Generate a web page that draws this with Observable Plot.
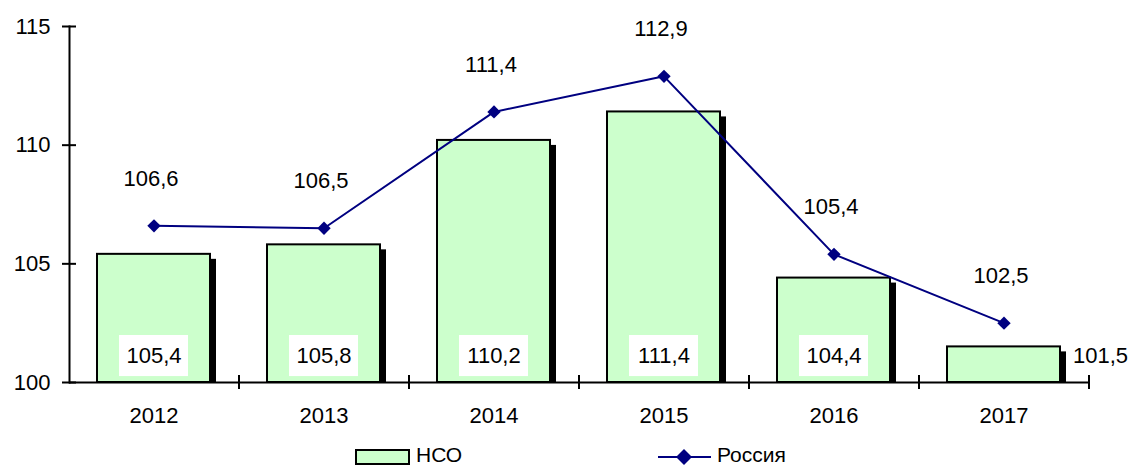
<!DOCTYPE html>
<html><head><meta charset="utf-8">
<script src="https://cdn.jsdelivr.net/npm/d3@7"></script>
<script src="https://cdn.jsdelivr.net/npm/@observablehq/plot@0.6"></script>
<style>
body{margin:0;background:#fff;font-family:"Liberation Sans",Arial,sans-serif;}
#wrap{position:relative;width:1135px;height:468px;overflow:hidden;}
.leg{position:absolute;font-size:21px;line-height:18px;color:#000;white-space:nowrap;}
</style></head><body><div id="wrap"></div>
<script>
const years = ["2012", "2013", "2014", "2015", "2016", "2017"];
const nso = [105.4, 105.8, 110.2, 111.4, 104.4, 101.5];
const russia = [106.6, 106.5, 111.4, 112.9, 105.4, 102.5];
const seriesNames = ["НСО", "Россия"];
const yTicks = [100, 105, 110, 115];

const fmt = v => v.toFixed(1).replace(".", ",");
const data = years.map((y, i) => ({year: y, nso: nso[i], russia: russia[i]}));
const inside = data.filter(d => d.nso >= 103);
const outside = data.filter(d => d.nso < 103);

const chart = Plot.plot({
  width: 1135, height: 440,
  marginLeft: 69, marginRight: 46, marginTop: 26, marginBottom: 58,
  style: {fontFamily: "Liberation Sans, Arial, sans-serif", fontSize: "22px", color: "#000", background: "#fff", overflow: "visible"},
  x: {domain: years, paddingInner: 0.335, paddingOuter: 0.1675, label: null},
  y: {domain: [100, 115], label: null},
  marks: [
    Plot.barY(data, {x: "year", y1: 100, y2: "nso", fill: "#000", dx: 6, insetTop: 5}),
    Plot.barY(data, {x: "year", y1: 100, y2: "nso", fill: "#CCFFCC", stroke: "#000", strokeWidth: 2}),
    Plot.barY(inside, {x: "year", y1: 100.25, y2: 101.98, fill: "#fff", insetLeft: 22, insetRight: 22}),
    Plot.text(inside, {x: "year", y: 100, dy: -27, text: d => fmt(d.nso)}),
    Plot.text(outside, {x: "year", y: 100, dy: -27, dx: 69, textAnchor: "start", text: d => fmt(d.nso)}),
    Plot.ruleY([100], {stroke: "#000", strokeWidth: 2}),
    Plot.frame({anchor: "left", stroke: "#000", strokeWidth: 2}),
    Plot.ruleX(years, {x: d => d, y1: 100, y2: 100, insetTop: -7, insetBottom: -7, dx: 85, stroke: "#000", strokeWidth: 2}),
    Plot.axisY({ticks: yTicks, tickSize: 0, tickPadding: 19, tickFormat: d => d, label: null}),
    Plot.axisY({ticks: yTicks, tickSize: 14, dx: 7, strokeWidth: 2, tickFormat: () => "", label: null}),
    Plot.axisX({tickSize: 0, tickPadding: 25, label: null}),
    Plot.line(data, {x: "year", y: "russia", stroke: "#000080", strokeWidth: 2}),
    Plot.dot(data, {x: "year", y: "russia", symbol: "diamond2", r: 6, fill: "#000080"}),
    Plot.text(data, {x: "year", y: "russia", dy: -47, dx: -3, text: d => fmt(d.russia)})
  ]
});
const wrap = document.getElementById("wrap");
wrap.appendChild(chart);

const leg1 = document.createElement("div");
leg1.className = "leg";
leg1.style.left = "354px"; leg1.style.top = "446px";
leg1.innerHTML = `<svg width="58" height="20" style="position:absolute;left:0;top:0"><rect x="2" y="4" width="53" height="14" fill="#CCFFCC" stroke="#000" stroke-width="2"/></svg><span style="position:absolute;left:62px;top:0">${seriesNames[0]}</span>`;
wrap.appendChild(leg1);

const leg2 = document.createElement("div");
leg2.className = "leg";
leg2.style.left = "657px"; leg2.style.top = "446px";
leg2.innerHTML = `<svg width="56" height="20" style="position:absolute;left:0;top:0"><line x1="1" y1="11" x2="54" y2="11" stroke="#000080" stroke-width="2"/><path d="M27,3 L35,11 L27,19 L19,11 Z" fill="#000080"/></svg><span style="position:absolute;left:60px;top:0">${seriesNames[1]}</span>`;
wrap.appendChild(leg2);
</script>
</body></html>
